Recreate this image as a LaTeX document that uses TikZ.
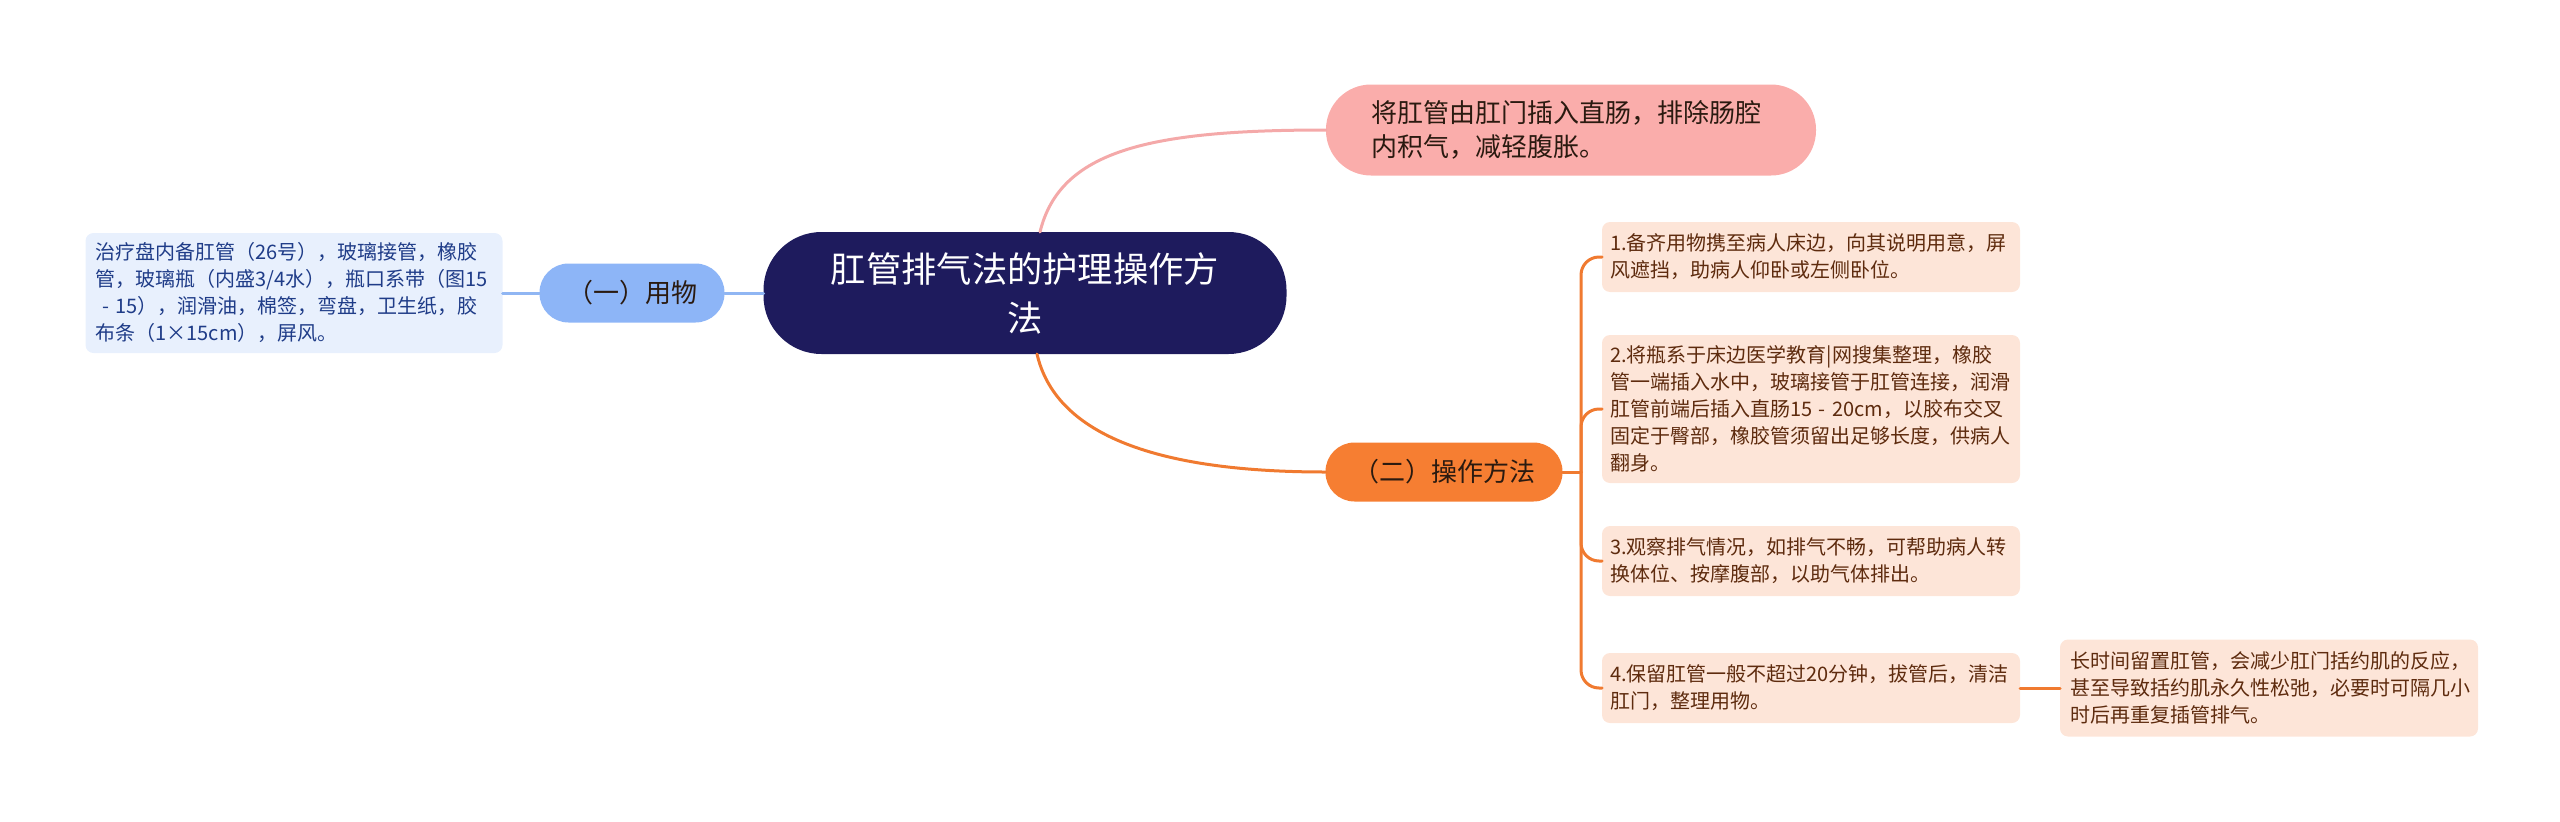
\documentclass[tikz,border=0pt]{standalone}
\usepackage{fontspec}
\newfontfamily\cjk{Noto Sans CJK SC}
\definecolor{navy}{HTML}{1E1B5D}
\definecolor{pinkfill}{HTML}{FAADAB}
\definecolor{pinkline}{HTML}{F4A9A9}
\definecolor{bluefill}{HTML}{8DB5F7}
\definecolor{blueline}{HTML}{90B6F3}
\definecolor{leaffill}{HTML}{E8F0FD}
\definecolor{leaftext}{HTML}{1F3C88}
\definecolor{orangefill}{HTML}{F67E32}
\definecolor{orangeline}{HTML}{F07A30}
\definecolor{peachfill}{HTML}{FDE5D8}
\definecolor{peachtext}{HTML}{5E2B0E}
\definecolor{darktext}{HTML}{2A1A10}
\begin{document}
\begin{tikzpicture}[x=1pt,y=-1pt,
  base/.style={inner ysep=0pt, outer sep=0pt},
  rootbox/.style={base, fill=navy, text=white, rounded corners=58pt,
    minimum width=523pt, minimum height=122pt, align=center,
    font=\cjk\fontsize{35.3}{49}\selectfont},
  pinkbox/.style={base, fill=pinkfill, text=darktext, rounded corners=45pt,
    minimum height=91pt, text width=400pt, inner xsep=45pt, align=left,
    font=\cjk\fontsize{26}{34}\selectfont},
  pillbox/.style={base, rounded corners=29pt, minimum height=59pt,
    align=center, text=darktext, font=\cjk\fontsize{26}{34}\selectfont},
  leafbox/.style={base, fill=leaffill, text=leaftext, rounded corners=8pt,
    minimum height=120pt, text width=397pt, inner xsep=10pt, align=left,
    font=\cjk\fontsize{20}{27}\selectfont},
  peachbox/.style={base, fill=peachfill, text=peachtext, rounded corners=8pt,
    text width=402pt, inner xsep=8pt, align=left,
    font=\cjk\fontsize{20}{27}\selectfont},
  conn/.style={line width=3pt, line cap=round}
]
\useasboundingbox (0,0) rectangle (2560,822);

% nodes
\node[rootbox] (root) at (1025,293) {肛管排气法的护理操作方\\法};
\node[pinkbox] (top) at (1571,130) {将肛管由肛门插入直肠，排除肠腔\\内积气，减轻腹胀。};
\node[pillbox, fill=bluefill, minimum width=185pt] (yi) at (632,293) {（一）用物};
\node[leafbox] (leaf) at (294,293) {治疗盘内备肛管（26号），玻璃接管，橡胶\\管，玻璃瓶（内盛3/4水），瓶口系带（图15\\\ - 15），润滑油，棉签，弯盘，卫生纸，胶\\布条（1×15cm），屏风。};
\node[pillbox, fill=orangefill, minimum width=237pt] (er) at (1444,472) {（二）操作方法};
\node[peachbox, minimum height=70pt] (b1) at (1811,257) {1.备齐用物携至病人床边，向其说明用意，屏\\风遮挡，助病人仰卧或左侧卧位。};
\node[peachbox, minimum height=148pt] (b2) at (1811,409) {2.将瓶系于床边医学教育|网搜集整理，橡胶\\管一端插入水中，玻璃接管于肛管连接，润滑\\肛管前端后插入直肠15 - 20cm，以胶布交叉\\固定于臀部，橡胶管须留出足够长度，供病人\\翻身。};
\node[peachbox, minimum height=70pt] (b3) at (1811,561) {3.观察排气情况，如排气不畅，可帮助病人转\\换体位、按摩腹部，以助气体排出。};
\node[peachbox, minimum height=70pt] (b4) at (1811,688) {4.保留肛管一般不超过20分钟，拔管后，清洁\\肛门，整理用物。};
\node[peachbox, minimum height=97pt, text width=398pt, inner xsep=10pt] (b5) at (2269,688) {长时间留置肛管，会减少肛门括约肌的反应，\\甚至导致括约肌永久性松弛，必要时可隔几小\\时后再重复插管排气。};

% connectors
\coordinate (rtop) at (1040,232);
\coordinate (rbot) at (1037,354);
\coordinate (tr) at (1581,472);
\draw[conn, pinkline] (rtop) .. controls (1060,150) and (1150,130) .. (top.west);
\draw[conn, orangeline] (rbot) .. controls (1055,432) and (1150,472) .. (er.west);
\draw[conn, blueline] (leaf.east) -- (yi.west);
\draw[conn, blueline] (yi.east) -- (root.west);
\draw[conn, orangeline] (er.east) -- (tr);
\draw[conn, orangeline, rounded corners=18pt] (tr) |- (b1.west);
\draw[conn, orangeline, rounded corners=18pt] (tr) |- (b2.west);
\draw[conn, orangeline, rounded corners=18pt] (tr) |- (b3.west);
\draw[conn, orangeline, rounded corners=18pt] (tr) |- (b4.west);
\draw[conn, orangeline] (b4.east) -- (b5.west);
\end{tikzpicture}
\end{document}
